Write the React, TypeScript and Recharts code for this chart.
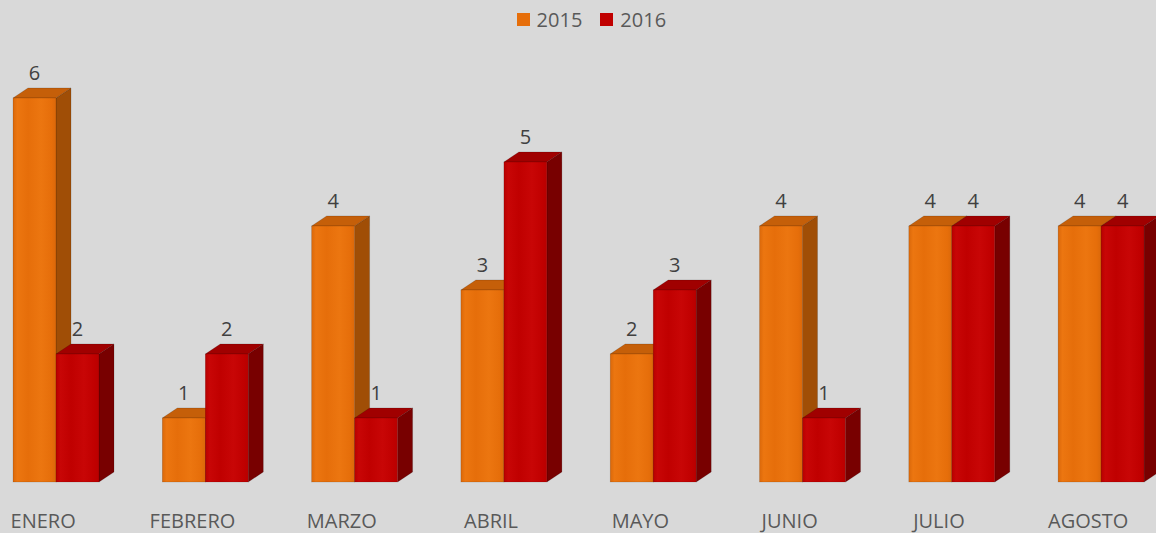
import React from 'react';
import { BarChart, Bar, XAxis, YAxis, Legend, LabelList } from 'recharts';

const months = ['ENERO', 'FEBRERO', 'MARZO', 'ABRIL', 'MAYO', 'JUNIO', 'JULIO', 'AGOSTO'];
const values2015 = [6, 1, 4, 3, 2, 4, 4, 4];
const values2016 = [2, 2, 1, 5, 3, 1, 4, 4];
const seriesNames = ['2015', '2016'];

const data = months.map((m, i) => ({ month: m, y2015: values2015[i], y2016: values2016[i] }));

const FONT = '"Open Sans", "DejaVu Sans", sans-serif';
const DX = 15;
const DY = 10;

const ORANGE = { id: 'gOr', front: '#E66E0A', light: '#EC7610', dark: '#DA680A', side: '#A04E06', top: '#C55F09' };
const RED = { id: 'gRd', front: '#C00000', light: '#C80606', dark: '#B80000', side: '#780000', top: '#A00000' };

const Bar3D = (props: any) => {
  const { x, y, width, height, c } = props;
  if (height == null || width == null) return null;
  const bottom = y + height;
  const r = x + width;
  return (
    <g>
      <polygon
        points={`${r},${y} ${r + DX},${y - DY} ${r + DX},${bottom - DY} ${r},${bottom}`}
        fill={c.side}
        stroke="rgba(0,0,0,0.25)"
        strokeWidth={0.6}
      />
      <polygon
        points={`${x},${y} ${x + DX},${y - DY} ${r + DX},${y - DY} ${r},${y}`}
        fill={c.top}
        stroke="rgba(0,0,0,0.25)"
        strokeWidth={0.6}
      />
      <rect x={x} y={y} width={width} height={height} fill={`url(#${c.id})`} stroke="rgba(0,0,0,0.2)" strokeWidth={0.6} />
    </g>
  );
};

const ValueLabel = (props: any) => {
  const { x, y, width, value } = props;
  return (
    <text x={x + width / 2} y={y - 18} textAnchor="middle" fill="#404040" fontSize={20} fontFamily={FONT}>
      {value}
    </text>
  );
};

const MonthTick = (props: any) => {
  const { x, y, payload } = props;
  return (
    <text x={x - 12.5} y={y + 38} textAnchor="middle" fill="#595959" fontSize={20} fontFamily={FONT}>
      {payload.value}
    </text>
  );
};

const LegendContent = () => (
  <div
    style={{
      display: 'flex',
      justifyContent: 'center',
      alignItems: 'center',
      paddingLeft: 24,
      height: 38,
      fontFamily: FONT,
      fontSize: 20,
      color: '#595959',
    }}
  >
    <span style={{ width: 13, height: 13, background: ORANGE.front, display: 'inline-block', marginRight: 7 }} />
    <span style={{ marginRight: 18 }}>{seriesNames[0]}</span>
    <span style={{ width: 13, height: 13, background: RED.front, display: 'inline-block', marginRight: 7 }} />
    <span>{seriesNames[1]}</span>
  </div>
);

export default function App() {
  return (
    <div style={{ position: 'relative', width: 1156, height: 533, overflow: 'hidden', background: '#D9D9D9' }}>
      <style>{`body{margin:0;background:#D9D9D9;}`}</style>
      <div style={{ position: 'absolute', left: -20.65, top: 0 }}>
        <BarChart
          width={1200}
          height={533}
          data={data}
          margin={{ top: 98, right: 3.6, bottom: 21, left: 2 }}
          barSize={43}
          barGap={0}
        >
          <defs>
            {[ORANGE, RED].map((c) => (
              <linearGradient key={c.id} id={c.id} x1="0" y1="0" x2="1" y2="0">
                <stop offset="0%" stopColor={c.dark} />
                <stop offset="10%" stopColor={c.light} />
                <stop offset="35%" stopColor={c.front} />
                <stop offset="65%" stopColor={c.light} />
                <stop offset="90%" stopColor={c.front} />
                <stop offset="100%" stopColor={c.dark} />
              </linearGradient>
            ))}
          </defs>
          <XAxis dataKey="month" axisLine={false} tickLine={false} height={30} tick={<MonthTick />} interval={0} />
          <YAxis hide domain={[0, 6]} />
          <Legend
            verticalAlign="middle"
            layout="horizontal"
            wrapperStyle={{ top: 0, left: 0, width: 1200 }}
            content={<LegendContent />}
          />
          <Bar dataKey="y2015" name={seriesNames[0]} fill={ORANGE.front} isAnimationActive={false} shape={(p: any) => <Bar3D {...p} c={ORANGE} />}>
            <LabelList dataKey="y2015" content={<ValueLabel />} />
          </Bar>
          <Bar dataKey="y2016" name={seriesNames[1]} fill={RED.front} isAnimationActive={false} shape={(p: any) => <Bar3D {...p} c={RED} />}>
            <LabelList dataKey="y2016" content={<ValueLabel />} />
          </Bar>
        </BarChart>
      </div>
    </div>
  );
}
